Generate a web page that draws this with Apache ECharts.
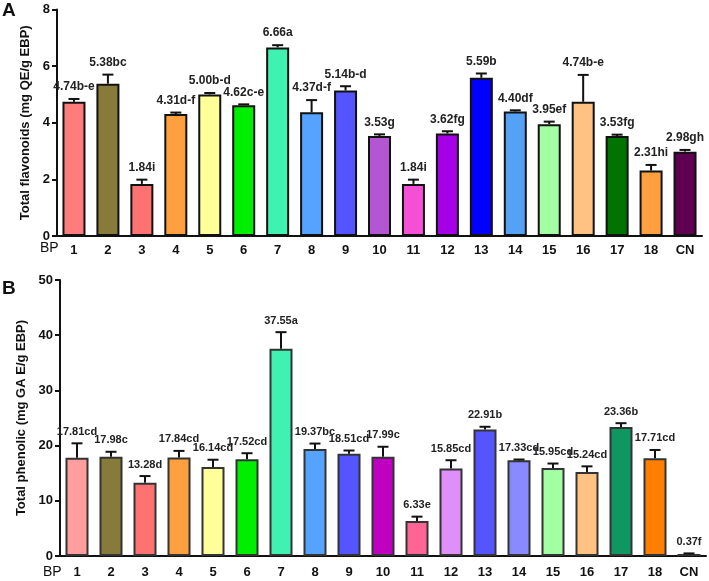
<!DOCTYPE html>
<html>
<head>
<meta charset="utf-8">
<script src="https://cdn.jsdelivr.net/npm/echarts@6/dist/echarts.min.js"></script>
<style>html,body{margin:0;padding:0;background:#fff}#c{width:709px;height:581px}</style>
</head>
<body>
<div id="c"></div>
<script>
const categories = ['1','2','3','4','5','6','7','8','9','10','11','12','13','14','15','16','17','18','CN'];

const flavValues = [4.74,5.38,1.84,4.31,5.00,4.62,6.66,4.37,5.14,3.53,1.84,3.62,5.59,4.40,3.95,4.74,3.53,2.31,2.98];
const flavErrors = [0.10,0.32,0.15,0.05,0.05,0.03,0.08,0.43,0.15,0.06,0.15,0.08,0.15,0.04,0.09,0.95,0.05,0.20,0.06];
const flavLabels = ['4.74b-e','5.38bc','1.84i','4.31d-f','5.00b-d','4.62c-e','6.66a','4.37d-f','5.14b-d','3.53g','1.84i','3.62fg','5.59b','4.40df','3.95ef','4.74b-e','3.53fg','2.31hi','2.98gh'];
const flavColors = ['#FF7C7C','#867B3B','#FF7272','#FFA040','#FFFF99','#00EE00','#40F2B2','#55A2FF','#5555FF','#B455D2','#F550D5','#A600E6','#0000FF','#55A2F5','#A2FFA2','#FFC282','#007300','#FFA040','#600050'];

const phenValues = [17.81,17.98,13.28,17.84,16.14,17.52,37.55,19.37,18.51,17.99,6.33,15.85,22.91,17.33,15.95,15.24,23.36,17.71,0.37];
const phenErrors = [2.6,0.9,1.2,1.2,1.3,1.1,3.0,1.0,0.6,1.8,0.8,1.5,0.5,0.15,0.8,1.0,0.7,1.5,0.1];
const phenLabels = ['17.81cd','17.98c','13.28d','17.84cd','16.14cd','17.52cd','37.55a','19.37bc','18.51cd','17.99c','6.33e','15.85cd','22.91b','17.33cd','15.95cd','15.24cd','23.36b','17.71cd','0.37f'];
const phenColors = ['#FF9E9E','#867B3B','#FF7272','#FFA040','#FFFF99','#00EE00','#40F2B2','#55A2FF','#5555FF','#C000C0','#FF6496','#E08EF8','#5555FF','#8A8AFF','#A2FFA2','#FFC282','#109660','#FF8000','#222222'];

const fontFam = '"Liberation Sans", Arial, sans-serif';

function errSeries(values, errors, labels, xi, fs) {
  return {
    type: 'custom', xAxisIndex: xi, yAxisIndex: xi, z: 5,
    data: values.map((v, i) => [i, v, errors[i]]),
    renderItem: function (params, api) {
      const x = api.value(0), v = api.value(1), e = api.value(2);
      const base = api.coord([x, v]);
      const top = api.coord([x, v + e]);
      const cap = 5.5;
      return {
        type: 'group',
        children: [
          {type: 'line', shape: {x1: base[0], y1: base[1], x2: top[0], y2: top[1]}, style: {stroke: '#111', lineWidth: 2}},
          {type: 'line', shape: {x1: top[0] - cap, y1: top[1], x2: top[0] + cap, y2: top[1]}, style: {stroke: '#111', lineWidth: 2}},
          {type: 'text', x: top[0], y: top[1] - 6, style: {text: labels[params.dataIndex], fill: '#222', font: 'bold ' + fs + 'px ' + fontFam, textAlign: 'center', textVerticalAlign: 'bottom'}}
        ]
      };
    }
  };
}

function barSeries(values, colors, xi, border) {
  return {
    type: 'bar', xAxisIndex: xi, yAxisIndex: xi, barWidth: 23,
    data: values.map((v, i) => ({value: v, itemStyle: {color: colors[i], borderColor: border, borderWidth: 2}})),
    z: 3
  };
}

function xAx(gi, margin) {
  return {
    type: 'category', gridIndex: gi, data: categories,
    axisLine: {lineStyle: {color: '#111', width: 2}},
    axisTick: {alignWithLabel: true, length: 6, lineStyle: {color: '#111', width: 2}},
    axisLabel: {color: '#111', fontSize: 13, fontWeight: 'bold', fontFamily: fontFam, margin: margin, interval: 0}
  };
}
function yAx(gi, max, interval, name) {
  return {
    type: 'value', gridIndex: gi, min: 0, max: max, interval: interval,
    name: name, nameLocation: 'middle', nameGap: 20,
    nameTextStyle: {color: '#111', fontSize: 13, fontWeight: 'bold', fontFamily: fontFam},
    axisLine: {show: true, lineStyle: {color: '#111', width: 2}},
    axisTick: {show: true, length: 5, lineStyle: {color: '#111', width: 2}},
    axisLabel: {color: '#111', fontSize: 13, fontWeight: 'bold', fontFamily: fontFam, margin: 7},
    splitLine: {show: false}
  };
}

const chart = echarts.init(document.getElementById('c'), null, {renderer: 'canvas'});
chart.setOption({
  animation: false,
  backgroundColor: '#fff',
  grid: [
    {left: 57, right: 7, top: 9.5, height: 226.5},
    {left: 60, right: 3, top: 280, height: 276}
  ],
  xAxis: [xAx(0, 8), xAx(1, 10)],
  yAxis: [
    yAx(0, 8, 2, 'Total flavonoids (mg QE/g EBP)'),
    yAx(1, 50, 10, 'Total phenolic (mg GA E/g EBP)')
  ],
  graphic: [
    {type: 'text', left: 2, top: 1, style: {text: 'A', font: 'bold 19px ' + fontFam, fill: '#111'}},
    {type: 'text', left: 2, top: 279, style: {text: 'B', font: 'bold 19px ' + fontFam, fill: '#111'}},
    {type: 'text', left: 40, top: 241, style: {text: 'BP', font: '14px ' + fontFam, fill: '#111'}},
    {type: 'text', left: 43, top: 565, style: {text: 'BP', font: '14px ' + fontFam, fill: '#111'}}
  ],
  series: [
    barSeries(flavValues, flavColors, 0, '#111'),
    errSeries(flavValues, flavErrors, flavLabels, 0, 12),
    barSeries(phenValues, phenColors, 1, '#333'),
    errSeries(phenValues, phenErrors, phenLabels, 1, 11)
  ]
});
</script>
</body>
</html>
